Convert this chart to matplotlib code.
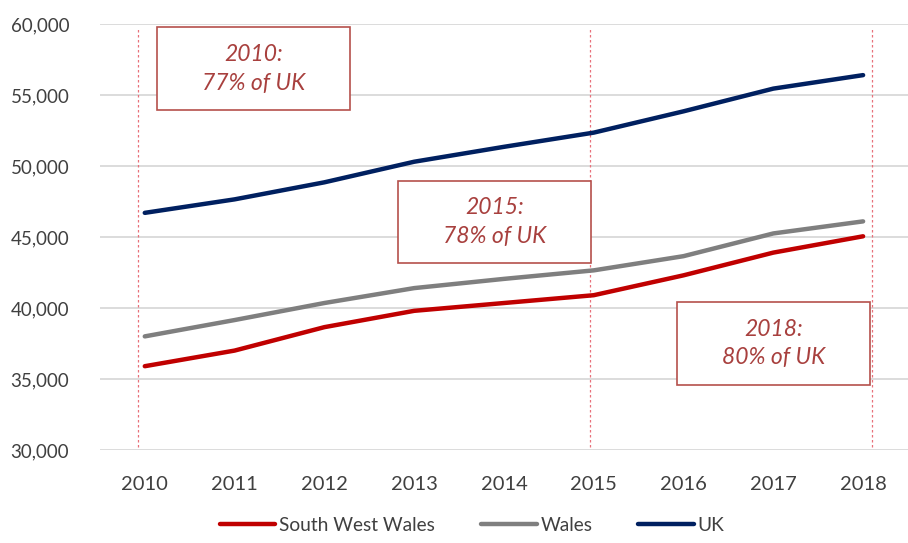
import matplotlib.pyplot as plt
from matplotlib.patches import Rectangle
from matplotlib.ticker import FuncFormatter

plt.rcParams['font.family'] = ['Lato', 'DejaVu Sans']

years = [2010, 2011, 2012, 2013, 2014, 2015, 2016, 2017, 2018]
sww = [35900, 37000, 38650, 39800, 40350, 40900, 42300, 43900, 45050]
wales = [38000, 39150, 40350, 41400, 42050, 42650, 43650, 45250, 46100]
uk = [46700, 47650, 48850, 50300, 51350, 52350, 53850, 55450, 56400]

marker_years = [2009.92, 2014.96, 2018.1]
notes = ["2010:\n77% of UK", "2015:\n78% of UK", "2018:\n80% of UK"]
# box positions in figure fractions (x0, y0, w, h)
note_boxes = [(0.173, 0.797, 0.212, 0.153),
              (0.438, 0.516, 0.213, 0.151),
              (0.746, 0.291, 0.212, 0.153)]

txt_col = '#A8403E'

fig = plt.figure(figsize=(9.08, 5.43), dpi=100)
ax = fig.add_axes([0.110, 0.1713, 0.890, 0.7845])

ax.plot(years, sww, color='#C00000', lw=3.2, label='South West Wales', solid_capstyle='round')
ax.plot(years, wales, color='#7F7F7F', lw=3.2, label='Wales', solid_capstyle='round')
ax.plot(years, uk, color='#002060', lw=3.2, label='UK', solid_capstyle='round')

for x in marker_years:
    ax.axvline(x, ymin=0.008, ymax=0.99, color='#E8707A', lw=0.9, ls=(0, (2, 2)), zorder=1)

ax.set_xlim(2009.5, 2018.5)
ax.set_ylim(30000, 60000)
ax.set_yticks(range(30000, 60001, 5000))
ax.set_xticks(years)
ax.yaxis.set_major_formatter(FuncFormatter(lambda v, p: f'{int(v):,}'))
ax.grid(axis='y', color='#D9D9D9', lw=1.3)
ax.set_axisbelow(True)
for s in ax.spines.values():
    s.set_visible(False)
ax.tick_params(length=0, colors='#404040')
ax.tick_params(axis='y', pad=22, labelsize=13.5)
ax.tick_params(axis='x', pad=19, labelsize=14.5)

for (x0, y0, w, h), t in zip(note_boxes, notes):
    fig.patches.append(Rectangle((x0, y0), w, h, transform=fig.transFigure,
                                 fill=True, facecolor='white', edgecolor='#B5504C', lw=1.2, zorder=5))
    fig.text(x0 + w / 2, y0 + h / 2, t, ha='center', va='center', style='italic',
             fontsize=16.5, color=txt_col, linespacing=1.45, zorder=6)

fig.legend(loc='lower center', bbox_to_anchor=(0.52, -0.015), ncol=3, frameon=False,
           fontsize=13.8, handlelength=2.9, columnspacing=2.4, handletextpad=0.2,
           labelcolor='#404040')

fig.savefig('out.png', dpi=100)
